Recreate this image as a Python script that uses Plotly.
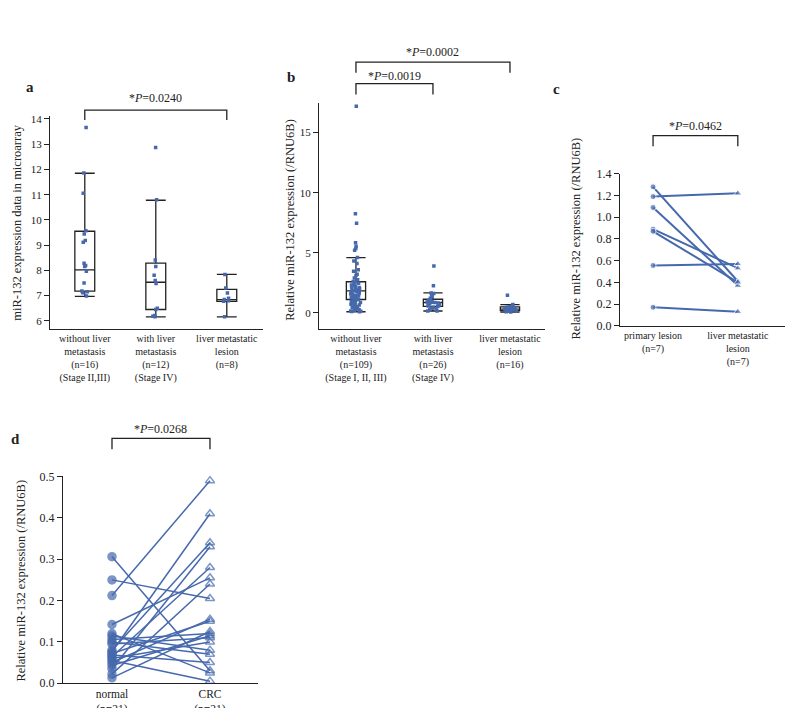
import plotly.graph_objects as go

# 画布
W, H = 793, 708
BLUE = '#4669ad'
INK = '#222222'
FONT = 'Liberation Serif'


def px(x):
    return x / W


def py(y):
    return 1 - y / H


# ---- a: microarray ----
a_labels = ['without liver<br>metastasis<br>(n=16)<br>(Stage II,III)',
            'with liver<br>metastasis<br>(n=12)<br>(Stage IV)',
            'liver metastatic<br>lesion<br>(n=8)']
a_q1 = [7.18, 6.45, 6.77]
a_med = [8.02, 7.53, 6.84]
a_q3 = [9.55, 8.29, 7.25]
a_lo = [6.97, 6.16, 6.16]
a_hi = [11.85, 10.78, 7.84]
a_pts0 = [13.66, 11.86, 11.06, 9.57, 9.44, 9.18, 9.11, 8.28, 8.19, 8.15, 7.97,
          7.50, 7.18, 7.15, 7.11, 6.98]
a_pts1 = [12.87, 10.80, 8.41, 8.15, 7.81, 7.60, 7.48, 6.50, 6.45, 6.21, 6.18, 6.16]
a_pts2 = [7.84, 7.30, 7.10, 6.90, 6.85, 6.80, 6.78, 6.16]

# ---- b: qRT-PCR ----
b_labels = ['without liver<br>metastasis<br>(n=109)<br>(Stage I, II, III)',
            'with liver<br>metastasis<br>(n=26)<br>(Stage IV)',
            'liver metastatic<br>lesion<br>(n=16)']
b_q1 = [1.10, 0.52, 0.17]
b_med = [1.82, 0.85, 0.30]
b_q3 = [2.58, 1.12, 0.49]
b_lo = [0.08, 0.14, 0.05]
b_hi = [4.58, 1.66, 0.68]
b_pts0 = [17.2, 8.25, 7.46, 5.83, 5.53, 5.34, 5.2, 4.6, 4.3, 4.1, 3.57, 3.46,
          3.2, 3.1, 2.9, 2.75, 2.6, 2.5, 2.45, 2.4, 2.3, 2.25, 2.2, 2.1, 2.05,
          2.0, 1.95, 1.9, 1.85, 1.8, 1.75, 1.7, 1.65, 1.6, 1.55, 1.5, 1.45,
          1.4, 1.35, 1.3, 1.25, 1.2, 1.15, 1.1, 1.05, 1.0, 0.95, 0.9, 0.85,
          0.8, 0.7, 0.65, 0.6, 0.5, 0.45, 0.4, 0.35, 0.3, 0.25, 0.2, 0.15,
          0.12, 0.1, 0.08]
b_pts1 = [3.9, 2.25, 1.65, 1.6, 1.4, 1.2, 1.1, 1.05, 1.0, 0.95, 0.9, 0.88,
          0.85, 0.8, 0.75, 0.7, 0.65, 0.6, 0.55, 0.52, 0.45, 0.4, 0.3, 0.25,
          0.15, 0.14]
b_pts2 = [1.45, 0.68, 0.6, 0.5, 0.49, 0.45, 0.4, 0.35, 0.3, 0.28, 0.25, 0.2,
          0.17, 0.12, 0.08, 0.05]

# ---- c: paired primary / liver ----
c_labels = ['primary lesion<br>(n=7)', 'liver metastatic<br>lesion<br>(n=7)']
c_primary = [1.28, 1.19, 1.09, 0.89, 0.87, 0.555, 0.17]
c_liver = [0.41, 1.22, 0.37, 0.53, 0.40, 0.57, 0.13]

# ---- d: paired normal / CRC ----
d_labels = ['normal<br>(n=21)', 'CRC<br>(n=21)']
d_normal = [0.306, 0.25, 0.212, 0.142, 0.12, 0.114, 0.106, 0.10, 0.095, 0.08,
            0.076, 0.072, 0.068, 0.064, 0.06, 0.055, 0.05, 0.043, 0.035, 0.022,
            0.013]
d_crc = [0.03, 0.205, 0.49, 0.255, 0.025, 0.08, 0.12, 0.07, 0.11, 0.34, 0.41,
         0.15, 0.05, 0.28, 0.10, 0.005, 0.155, 0.115, 0.33, 0.24, 0.125]

# 坐标轴区域 (像素)
dom = {
    'a': ((42, 255), (103, 320), (-0.49, 2.51), (5.69, 14.12)),
    'b': ((311, 537), (90, 320), (-0.48, 2.455), (-1.33, 17.45)),
    'c': ((612, 790), (162, 317), (-0.39, 1.71), (0, 1.4)),
    'd': ((55, 250), (470, 681.7), (-0.5, 1.49), (0, 0.502)),
}


def cat_x(key, v):
    (x0, x1), _, (r0, r1), _ = dom[key]
    return px(x0 + (v - r0) / (r1 - r0) * (x1 - x0))


fig = go.Figure()

# boxes a / b
for key, xa, ya, q1, med, q3, lo, hi, pts, w, jit in [
        ('a', 'x', 'y', a_q1, a_med, a_q3, a_lo, a_hi,
         [a_pts0, a_pts1, a_pts2], 0.28, 0.35),
        ('b', 'x2', 'y2', b_q1, b_med, b_q3, b_lo, b_hi,
         [b_pts0, b_pts1, b_pts2], 0.25, 0.7)]:
    fig.add_trace(go.Box(
        x=[0, 1, 2], q1=q1, median=med, q3=q3, lowerfence=lo, upperfence=hi,
        width=w, whiskerwidth=1, boxpoints=False,
        fillcolor='rgba(0,0,0,0)', line=dict(color=INK, width=1.3),
        xaxis=xa, yaxis=ya, showlegend=False))
    xs, ys = [], []
    for i, p in enumerate(pts):
        xs += [i] * len(p)
        ys += p
    fig.add_trace(go.Box(
        x=xs, y=ys, boxpoints='all', jitter=jit, pointpos=0, width=w,
        fillcolor='rgba(0,0,0,0)', line=dict(color='rgba(0,0,0,0)', width=0),
        marker=dict(symbol='square', size=3.5, color=BLUE),
        xaxis=xa, yaxis=ya, showlegend=False))

# c pairs
for p, l in zip(c_primary, c_liver):
    fig.add_trace(go.Scatter(
        x=[0, 1], y=[p, l], mode='lines+markers',
        line=dict(color=BLUE, width=2),
        marker=dict(symbol=['circle', 'triangle-up'], size=[6, 7], color=BLUE),
        xaxis='x3', yaxis='y3', showlegend=False, cliponaxis=False))

# d pairs
for n, c in zip(d_normal, d_crc):
    fig.add_trace(go.Scatter(
        x=[0, 1], y=[n, c], mode='lines+markers',
        line=dict(color=BLUE, width=1.5),
        marker=dict(symbol=['circle', 'triangle-up-open'], size=[8, 8],
                    color=BLUE, line=dict(color=BLUE, width=1.5)),
        xaxis='x4', yaxis='y4', showlegend=False, cliponaxis=False))

layout = dict(
    width=W, height=H, margin=dict(l=0, r=0, t=0, b=0),
    plot_bgcolor='white', paper_bgcolor='white',
    font=dict(family=FONT, color=INK, size=11),
    boxmode='overlay', showlegend=False,
)

labels = {'a': a_labels, 'b': b_labels, 'c': c_labels, 'd': d_labels}
ytick = {
    'a': dict(tickvals=list(range(6, 15)), tickfont=dict(size=11)),
    'b': dict(tickvals=[0, 5, 10, 15], tickfont=dict(size=11)),
    'c': dict(tickvals=[0, 0.2, 0.4, 0.6, 0.8, 1.0, 1.2, 1.4], tickformat='.1f',
              tickfont=dict(size=12)),
    'd': dict(tickvals=[0, 0.1, 0.2, 0.3, 0.4, 0.5], tickformat='.1f',
              tickfont=dict(size=12)),
}
for i, key in enumerate('abcd'):
    (x0, x1), (y0, y1), xr, yr = dom[key]
    sfx = '' if i == 0 else str(i + 1)
    layout['xaxis' + sfx] = dict(
        domain=[px(x0), px(x1)], range=list(xr), anchor='y' + sfx,
        tickvals=list(range(len(labels[key]))), ticktext=labels[key],
        tickfont=dict(size=11.5 if key == 'd' else 10),
        showline=True, linecolor=INK, linewidth=1.3, ticks='',
        showgrid=False, zeroline=False)
    layout['yaxis' + sfx] = dict(
        domain=[py(y1), py(y0)], range=list(yr), anchor='x' + sfx,
        showline=True, linecolor=INK, linewidth=1.3, ticks='outside',
        ticklen=5, tickcolor=INK, showgrid=False, zeroline=False,
        **ytick[key])
fig.update_layout(**layout)


def note(text, x, y, size, angle=0):
    fig.add_annotation(text=text, x=x, y=y, xref='paper', yref='paper',
                       xanchor='center', yanchor='middle', textangle=angle,
                       showarrow=False, font=dict(size=size))


# 轴标题
ytitles = [
    ('miR-132 expression data in microarray', 9, 212),
    ('Relative miR-132 expression (/RNU6B)', 282, 209),
    ('Relative miR-132 expression (/RNU6B)', 568, 228),
    ('Relative miR-132 expression (/RNU6B)', 13, 577),
]
for text, x, y in ytitles:
    note(text, px(x), py(y), 12.5, -90)

# 面板字母
for text, x, y in [('a', 22, 73), ('b', 283, 63), ('c', 548, 75), ('d', 7, 433)]:
    note('<b>%s</b>' % text, px(x), py(y), 15)

# 显著性括号
brackets = [
    ('a', 0, 2, 97, 107, '*<i>P</i>=0.0240', 85),
    ('b', 0, 1, 70, 81, '*<i>P</i>=0.0019', 62),
    ('b', 0, 2, 48, 59, '*<i>P</i>=0.0002', 38),
    ('c', 0, 1, 123, 134, '*<i>P</i>=0.0462', 113),
    ('d', 0, 1, 432, 443, '*<i>P</i>=0.0268', 422),
]
for key, c0, c1, top, bot, text, ty in brackets:
    xa, xb = cat_x(key, c0), cat_x(key, c1)
    fig.add_shape(type='path', xref='paper', yref='paper',
                  path='M %f %f L %f %f L %f %f L %f %f' % (
                      xa, py(bot), xa, py(top), xb, py(top), xb, py(bot)),
                  line=dict(color=INK, width=1.3))
    note(text, (xa + xb) / 2, py(ty), 12)

fig.write_html("out.html")
